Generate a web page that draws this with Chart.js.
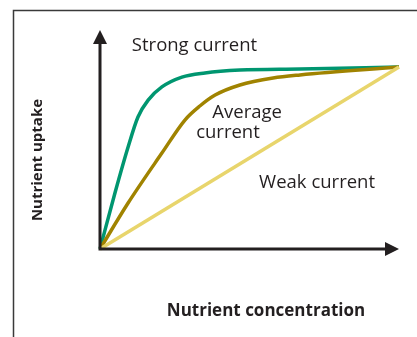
<!DOCTYPE html>
<html>
<head>
<meta charset="utf-8">
<script src="https://cdn.jsdelivr.net/npm/chart.js@4/dist/chart.umd.min.js"></script>
<style>
  html, body { margin: 0; padding: 0; background: #ffffff; }
  canvas { display: block; }
</style>
</head>
<body>
<canvas id="chart" width="417" height="337"></canvas>
<script>
// Nutrient uptake against nutrient concentration for three current strengths
const concentration = {
  strong:  [0, 5.0, 9.4, 12.7, 16.1, 20.7, 27.4, 35.1, 46.8, 66.9, 100],
  average: [0, 9.4, 20.7, 28.4, 33.4, 38.5, 46.8, 57.9, 66.9, 100],
  weak:    [0, 100]
};
const strongUptake  = [0, 25.6, 46.6, 60.3, 68.0, 74.0, 78.5, 80.4, 81.7, 82.2, 83.1];
const averageUptake = [0, 21.0, 43.8, 58.9, 65.3, 70.3, 74.9, 78.1, 79.5, 83.1];
const weakUptake    = [0, 83.1];

const seriesLabels = ['Strong current', 'Average current', 'Weak current'];
const axisTitles = { x: 'Nutrient concentration', y: 'Nutrient uptake' };

// In-plot labels: text lines with their anchor in data units
const curveLabels = [
  { text: 'Strong current', x: 31.6, y: 92.7 },
  { text: 'Average',        x: 49.2, y: 62.1 },
  { text: 'current',        x: 42.8, y: 53.0 },
  { text: 'Weak current',   x: 72.6, y: 30.1 }
];

const ink = '#231f20';
const pts = (xs, ys) => xs.map((x, i) => ({ x: x, y: ys[i] }));

// Frame, arrowed axes and text
const decorations = {
  id: 'decorations',
  afterDatasetsDraw(chart) {
    const { ctx, chartArea: a, scales } = chart;
    ctx.save();

    // outer frame: left and top edges
    ctx.strokeStyle = '#3a3a3a';
    ctx.lineWidth = 1.5;
    ctx.beginPath();
    ctx.moveTo(13.5, chart.height);
    ctx.lineTo(13.5, 10.5);
    ctx.lineTo(chart.width, 10.5);
    ctx.stroke();

    // axes with arrow heads
    ctx.strokeStyle = ink;
    ctx.fillStyle = ink;
    ctx.lineWidth = 3;
    ctx.lineCap = 'butt';
    ctx.beginPath();
    ctx.moveTo(a.left, a.top + 10);
    ctx.lineTo(a.left, a.bottom);
    ctx.lineTo(a.right - 10, a.bottom);
    ctx.stroke();
    ctx.beginPath();
    ctx.moveTo(a.left, a.top);
    ctx.lineTo(a.left - 7, a.top + 14);
    ctx.lineTo(a.left + 7, a.top + 14);
    ctx.closePath();
    ctx.fill();
    ctx.beginPath();
    ctx.moveTo(a.right, a.bottom);
    ctx.lineTo(a.right - 14, a.bottom - 7);
    ctx.lineTo(a.right - 14, a.bottom + 7);
    ctx.closePath();
    ctx.fill();

    // curve labels
    ctx.fillStyle = ink;
    ctx.font = '18.5px "Open Sans", sans-serif';
    ctx.textAlign = 'center';
    ctx.textBaseline = 'middle';
    curveLabels.forEach(l => {
      ctx.fillText(l.text, scales.x.getPixelForValue(l.x), scales.y.getPixelForValue(l.y));
    });

    // axis titles
    ctx.font = 'bold 17px "Open Sans", sans-serif';
    ctx.fillText(axisTitles.x, 266, 311);
    ctx.font = 'bold 15px "Open Sans", sans-serif';
    ctx.translate(38, 160);
    ctx.rotate(-Math.PI / 2);
    ctx.fillText(axisTitles.y, 0, 0);
    ctx.restore();
  }
};

new Chart(document.getElementById('chart'), {
  type: 'line',
  data: {
    datasets: [
      { label: seriesLabels[2], data: pts(concentration.weak, weakUptake), borderColor: '#e8d56c' },
      { label: seriesLabels[1], data: pts(concentration.average, averageUptake), borderColor: '#a08300', cubicInterpolationMode: 'monotone' },
      { label: seriesLabels[0], data: pts(concentration.strong, strongUptake), borderColor: '#009670', cubicInterpolationMode: 'monotone' }
    ]
  },
  options: {
    responsive: false,
    animation: false,
    layout: { padding: { left: 100, right: 18, top: 30, bottom: 88 } },
    datasets: { line: { borderWidth: 3.5, pointRadius: 0, fill: false, clip: false } },
    scales: {
      x: { type: 'linear', min: 0, max: 100, display: false },
      y: { type: 'linear', min: 0, max: 100, display: false }
    },
    plugins: { legend: { display: false }, tooltip: { enabled: false } }
  },
  plugins: [decorations]
});
</script>
</body>
</html>
